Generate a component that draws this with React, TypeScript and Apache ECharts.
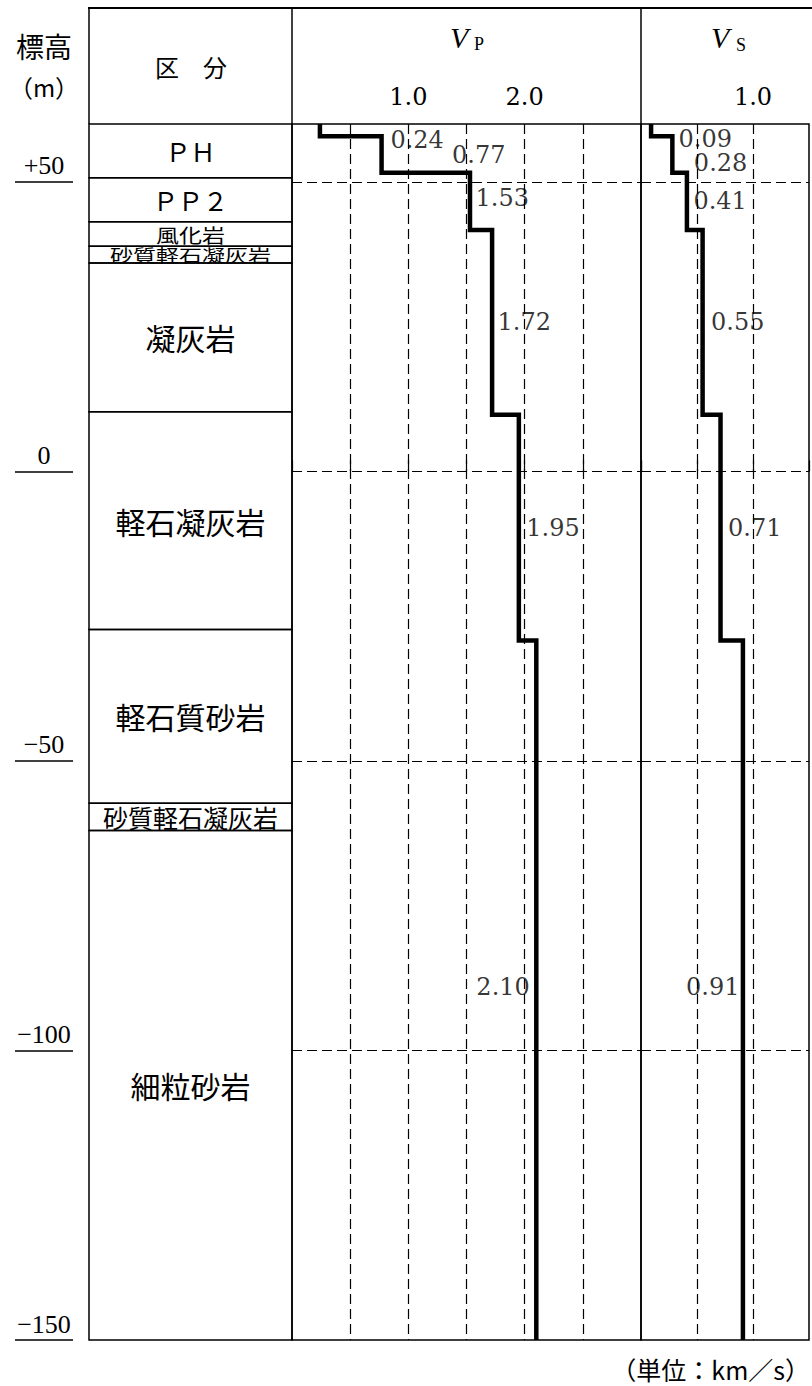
import React, { useEffect, useRef } from 'react';
import * as echarts from 'echarts';

// ---- data ----
const ELEV_MIN = -150;
const ELEV_MAX = 60;
const ELEV_STEP = 50;

// velocity layer boundaries (elevation, m) and velocities (km/s)
const VEL_BOUNDS = [60, 57.9, 51.6, 41.7, 9.8, -29.2, -150];
const VP_VALUES = [0.24, 0.77, 1.53, 1.72, 1.95, 2.1];
const VS_VALUES = [0.09, 0.28, 0.41, 0.55, 0.71, 0.91];

// geology column
const GEO_NAMES = ['ＰＨ', 'ＰＰ２', '風化岩', '砂質軽石凝灰岩', '凝灰岩', '軽石凝灰岩', '軽石質砂岩', '砂質軽石凝灰岩', '細粒砂岩'];
const GEO_BOUNDS = [60, 50.7, 43.1, 38.9, 36.0, 10.3, -27.3, -57.3, -62.0, -150];

const VP_TICK_LABELS = [1, 2];
const VS_TICK_LABELS = [1];

// ---- styles ----
const JP = '"Noto Sans CJK JP", sans-serif';
const NUM = '"DejaVu Serif", serif';
const SERIF = '"Liberation Serif", serif';
const GEO_FONT = [25, 25, 23, 23, 30, 30, 30, 25, 30];
const GEO_SCALE_Y = [1, 1, 0.85, 0.75, 1, 1, 1, 1, 1];
const VP_LABEL_STYLE = [
  { position: 'right', offset: [70, 10] },
  { position: 'right', offset: [70, 1] },
  { position: 'right', offset: [5, -3] },
  { position: 'right', offset: [5, 0] },
  { position: 'right', offset: [7, 0] },
  { position: 'left', offset: [-6, -3] },
];
const VS_LABEL_STYLE = [
  { position: 'right', offset: [27, 9] },
  { position: 'right', offset: [21, 9] },
  { position: 'right', offset: [6, 0] },
  { position: 'right', offset: [8, 0] },
  { position: 'right', offset: [7, 0] },
  { position: 'left', offset: [-3, -3] },
];

function stepPoints(values: number[]) {
  const pts: number[][] = [];
  values.forEach((v, i) => {
    pts.push([v, VEL_BOUNDS[i]]);
    pts.push([v, VEL_BOUNDS[i + 1]]);
  });
  return pts;
}

function labelPoints(values: number[], styles: any[]) {
  return values.map((v, i) => ({
    value: [v, (VEL_BOUNDS[i] + VEL_BOUNDS[i + 1]) / 2],
    label: {
      position: styles[i].position,
      offset: styles[i].offset,
    },
  }));
}

const GRID_TOP = 124;
const GRID_H = 1216;

export default function App() {
  const ref = useRef<HTMLDivElement>(null);

  useEffect(() => {
    if (!ref.current) return;
    const chart = echarts.init(ref.current, undefined, { renderer: 'svg' });

    const yBase = {
      type: 'value',
      min: ELEV_MIN,
      max: ELEV_MAX,
      interval: ELEV_STEP,
    };
    const dashed = { color: '#000', width: 1.2, type: [10, 5] };

    const valueLabel = {
      show: true,
      distance: 0,
      color: '#000',
      fontSize: 24,
      fontFamily: NUM,
      formatter: (p: any) => p.value[0].toFixed(2),
    };

    const xVel = (gridIndex: number, max: number, labels: number[]) => ({
      type: 'value',
      gridIndex,
      min: 0,
      max,
      interval: 0.5,
      position: 'top',
      axisLine: { show: false },
      axisTick: { show: true, length: 11, lineStyle: { color: '#000', width: 1.2 } },
      axisLabel: {
        show: true,
        margin: 15,
        color: '#000',
        fontSize: 24,
        fontFamily: NUM,
        formatter: (v: number) => (labels.indexOf(v) >= 0 ? v.toFixed(1) : ''),
      },
      splitLine: { show: true, showMinLine: false, showMaxLine: false, lineStyle: dashed },
    });

    const option: any = {
      animation: false,
      backgroundColor: '#fff',
      grid: [
        { left: 15, top: GRID_TOP, width: 58, height: GRID_H },
        { left: 89, top: GRID_TOP, width: 203, height: GRID_H },
        { left: 292, top: GRID_TOP, width: 349, height: GRID_H, show: true, borderColor: '#000', borderWidth: 1.5 },
        { left: 641, top: GRID_TOP, width: 174.5, height: GRID_H, show: true, borderColor: '#000', borderWidth: 1.5 },
      ],
      xAxis: [
        { type: 'value', gridIndex: 0, min: 0, max: 1, show: false },
        { type: 'value', gridIndex: 1, min: 0, max: 1, show: false },
        xVel(2, 3, VP_TICK_LABELS),
        xVel(3, 1.5, VS_TICK_LABELS),
      ],
      yAxis: [
        {
          ...yBase,
          gridIndex: 0,
          axisLine: { show: false },
          axisTick: { show: false },
          axisLabel: {
            show: true,
            margin: -29,
            align: 'center',
            verticalAlign: 'bottom',
            padding: [0, 0, 3, 0],
            color: '#000',
            fontSize: 26,
            fontFamily: SERIF,
            formatter: (v: number) => {
              if (v === ELEV_MAX) return '';
              if (v > 0) return '+' + v;
              if (v < 0) return '\u2212' + -v;
              return '0';
            },
          },
          splitLine: { show: true, showMaxLine: false, lineStyle: { color: '#000', width: 1.5 } },
        },
        { ...yBase, gridIndex: 1, show: false },
        {
          ...yBase,
          gridIndex: 2,
          axisLine: { show: false },
          axisTick: { show: false },
          axisLabel: { show: false },
          splitLine: { show: true, showMinLine: false, showMaxLine: false, lineStyle: dashed },
        },
        {
          ...yBase,
          gridIndex: 3,
          axisLine: { show: false },
          axisTick: { show: false },
          axisLabel: { show: false },
          splitLine: { show: true, showMinLine: false, showMaxLine: false, lineStyle: dashed },
        },
      ],
      graphic: [
        { type: 'line', shape: { x1: 88, y1: 8, x2: 812, y2: 8 }, style: { stroke: '#000', lineWidth: 2 } },
        { type: 'line', shape: { x1: 89, y1: 8, x2: 89, y2: 124 }, style: { stroke: '#000', lineWidth: 1.5 } },
        { type: 'line', shape: { x1: 292, y1: 8, x2: 292, y2: 124 }, style: { stroke: '#000', lineWidth: 1.5 } },
        { type: 'line', shape: { x1: 641, y1: 8, x2: 641, y2: 124 }, style: { stroke: '#000', lineWidth: 1.5 } },
        {
          type: 'text', x: 44, y: 46,
          style: { text: '標高', align: 'center', verticalAlign: 'middle', textAlign: 'center', textVerticalAlign: 'middle', fontSize: 28, fontFamily: JP, fill: '#000' },
        },
        {
          type: 'text', x: 44, y: 86,
          style: { text: '（m）', align: 'center', verticalAlign: 'middle', textAlign: 'center', textVerticalAlign: 'middle', fontSize: 24, fontFamily: JP, fill: '#000' },
        },
        {
          type: 'text', x: 191, y: 66,
          style: { text: '区　分', align: 'center', verticalAlign: 'middle', textAlign: 'center', textVerticalAlign: 'middle', fontSize: 24, fontFamily: JP, fill: '#000' },
        },
        {
          type: 'text', x: 450, y: 37,
          style: { text: 'V', align: 'left', verticalAlign: 'middle', textAlign: 'left', textVerticalAlign: 'middle', fontSize: 30, fontStyle: 'italic', fontFamily: SERIF, fill: '#000' },
        },
        {
          type: 'text', x: 474, y: 44,
          style: { text: 'P', align: 'left', verticalAlign: 'middle', textAlign: 'left', textVerticalAlign: 'middle', fontSize: 18, fontFamily: SERIF, fill: '#000' },
        },
        {
          type: 'text', x: 711, y: 37,
          style: { text: 'V', align: 'left', verticalAlign: 'middle', textAlign: 'left', textVerticalAlign: 'middle', fontSize: 30, fontStyle: 'italic', fontFamily: SERIF, fill: '#000' },
        },
        {
          type: 'text', x: 736, y: 45,
          style: { text: 'S', align: 'left', verticalAlign: 'middle', textAlign: 'left', textVerticalAlign: 'middle', fontSize: 18, fontFamily: SERIF, fill: '#000' },
        },
        {
          type: 'text', x: 810, y: 1369,
          style: { text: '（単位：km／s）', align: 'right', verticalAlign: 'middle', textAlign: 'right', textVerticalAlign: 'middle', fontSize: 25, fontFamily: JP, fill: '#000' },
        },
      ],
      series: [
        {
          type: 'custom',
          xAxisIndex: 1,
          yAxisIndex: 1,
          data: GEO_NAMES.map((_, i) => [GEO_BOUNDS[i], GEO_BOUNDS[i + 1]]),
          encode: { y: [0, 1] },
          renderItem: (params: any, api: any) => {
            const i = params.dataIndex;
            const top = api.value(0);
            const bot = api.value(1);
            const p1 = api.coord([0, top]);
            const p2 = api.coord([1, bot]);
            return {
              type: 'group',
              children: [
                {
                  type: 'rect',
                  shape: { x: p1[0], y: p1[1], width: p2[0] - p1[0], height: p2[1] - p1[1] },
                  style: { fill: 'none', stroke: '#000', lineWidth: 1.5 },
                },
                {
                  type: 'text',
                  x: (p1[0] + p2[0]) / 2,
                  y: (p1[1] + p2[1]) / 2,
                  scaleY: GEO_SCALE_Y[i],
                  style: {
                    text: GEO_NAMES[i],
                    x: 0,
                    y: 0,
                    align: 'center',
                    verticalAlign: 'middle',
                    textAlign: 'center',
                    textVerticalAlign: 'middle',
                    fontSize: GEO_FONT[i],
                    fontFamily: JP,
                    fill: '#000',
                  },
                },
              ],
            };
          },
        },
        {
          type: 'line',
          xAxisIndex: 2,
          yAxisIndex: 2,
          data: stepPoints(VP_VALUES),
          showSymbol: false,
          symbol: 'none',
          lineStyle: { color: '#000', width: 4.5, join: 'miter', cap: 'butt' },
          z: 5,
        },
        {
          type: 'scatter',
          xAxisIndex: 2,
          yAxisIndex: 2,
          symbolSize: 1,
          itemStyle: { color: 'rgba(0,0,0,0)' },
          label: valueLabel,
          data: labelPoints(VP_VALUES, VP_LABEL_STYLE),
          z: 6,
        },
        {
          type: 'line',
          xAxisIndex: 3,
          yAxisIndex: 3,
          data: stepPoints(VS_VALUES),
          showSymbol: false,
          symbol: 'none',
          lineStyle: { color: '#000', width: 4.5, join: 'miter', cap: 'butt' },
          z: 5,
        },
        {
          type: 'scatter',
          xAxisIndex: 3,
          yAxisIndex: 3,
          symbolSize: 1,
          itemStyle: { color: 'rgba(0,0,0,0)' },
          label: valueLabel,
          data: labelPoints(VS_VALUES, VS_LABEL_STYLE),
          z: 6,
        },
      ],
    };

    chart.setOption(option);
    return () => chart.dispose();
  }, []);

  return (
    <div
      ref={ref}
      style={{ position: 'absolute', left: 0, top: 0, width: 812, height: 1386, background: '#fff' }}
    />
  );
}
